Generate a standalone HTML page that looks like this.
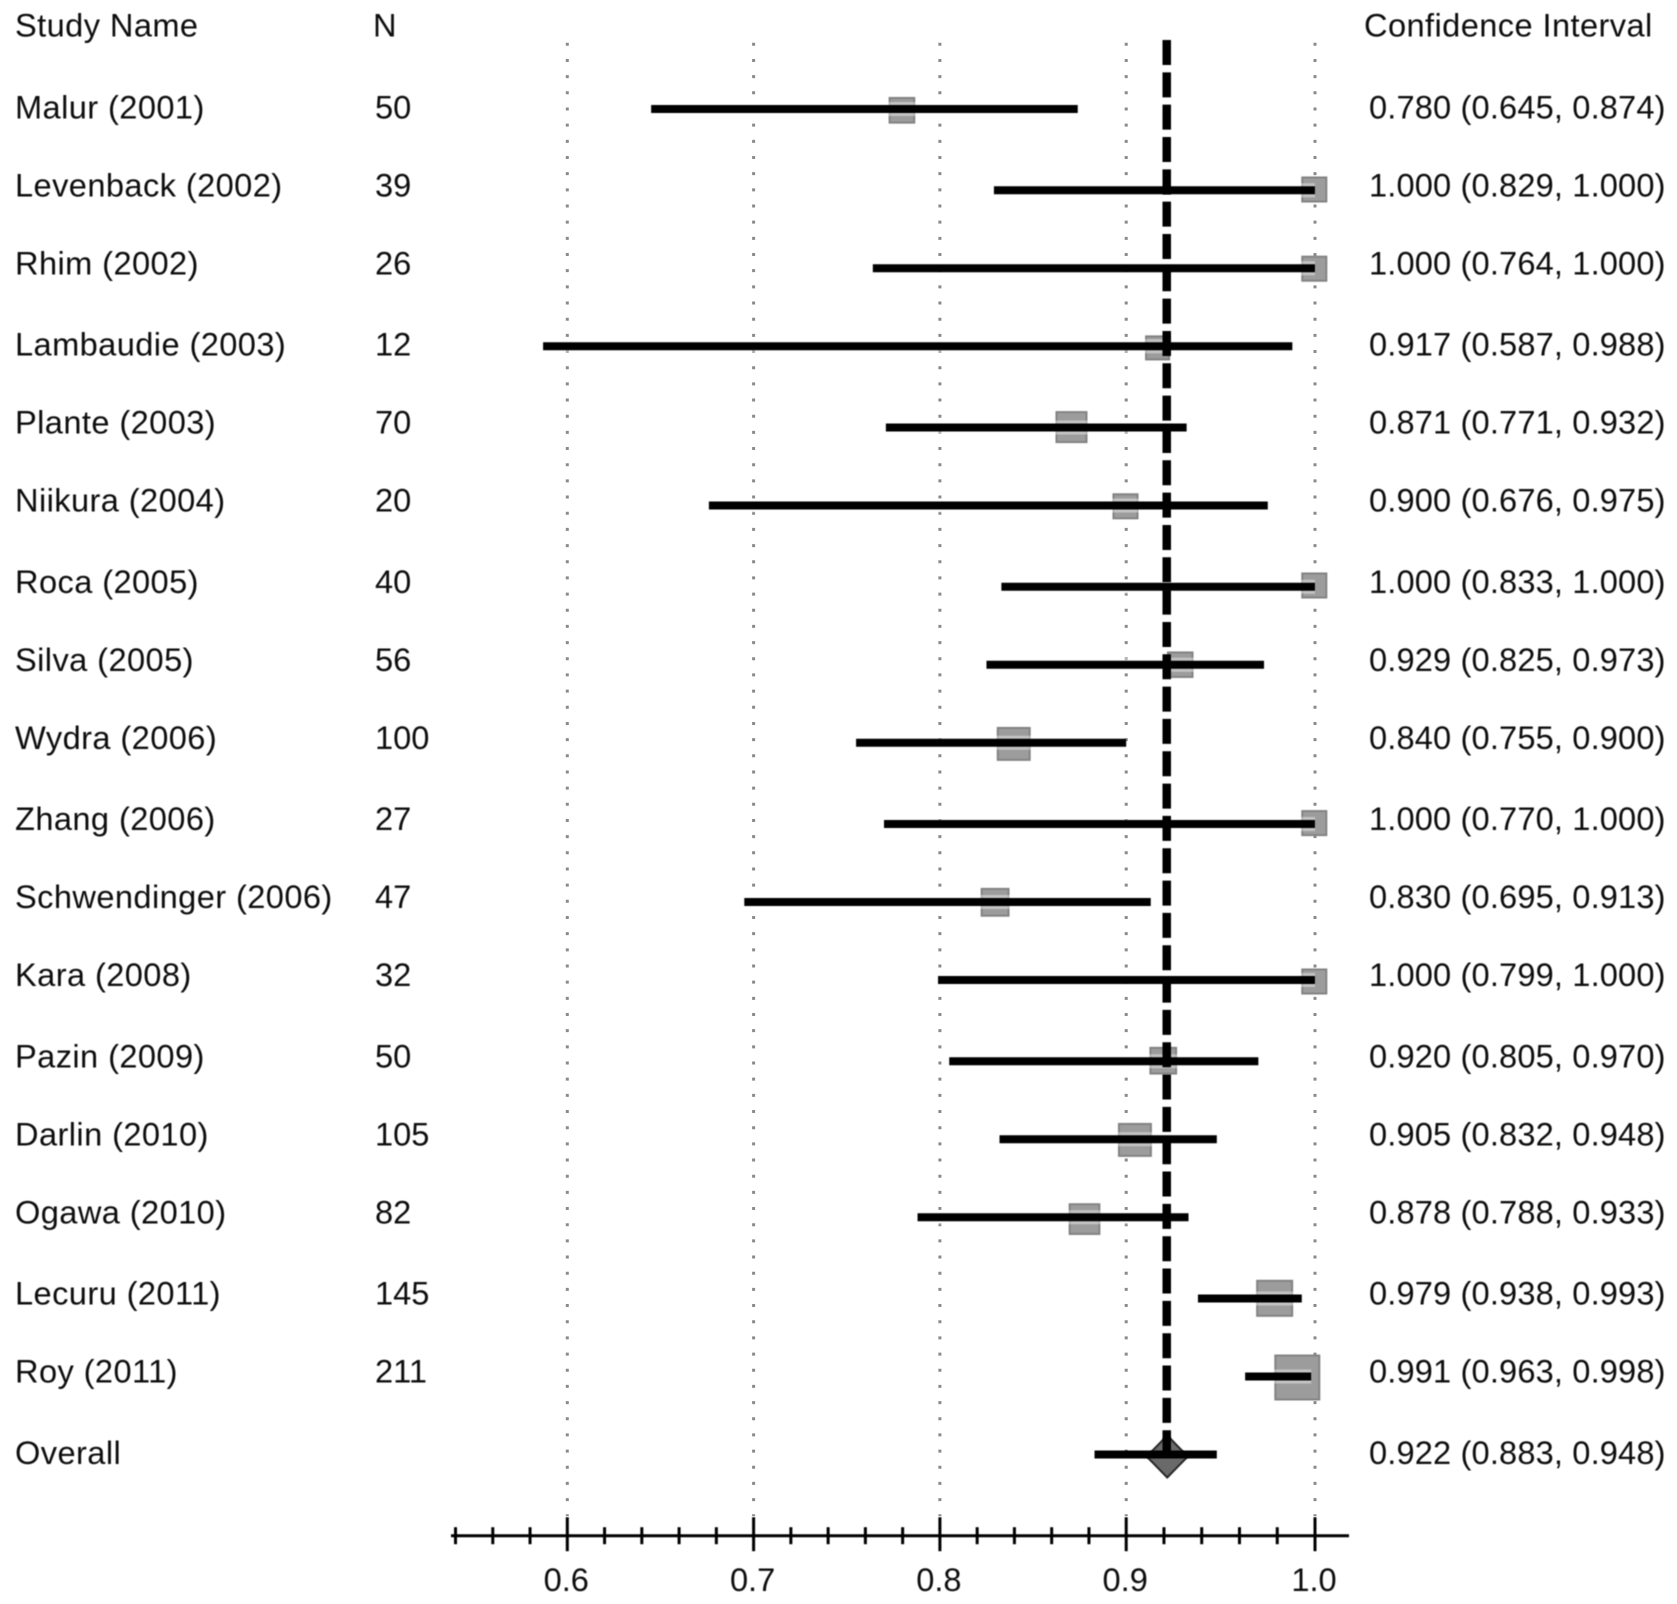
<!DOCTYPE html>
<html lang="en">
<head>
<meta charset="utf-8">
<title>Forest plot of sensitivity by study</title>
<style>
  html, body { margin: 0; padding: 0; background: #fff; }
  svg { display: block; }
  text { font-family: "Liberation Sans", Arial, sans-serif; font-size: 32.6px; fill: #0e0e0e; }
  .wide { letter-spacing: 0.42px; }
  .ci { letter-spacing: 0.16px; }
</style>
</head>
<body>
<svg id="chart" xmlns="http://www.w3.org/2000/svg" width="1677" height="1604" viewBox="0 0 1677 1604">
  <defs>
    <filter id="soft" filterUnits="userSpaceOnUse" x="0" y="0" width="1677" height="1604"><feGaussianBlur stdDeviation="0.45"/></filter>
  </defs>
  <rect width="1677" height="1604" fill="#fff"/>
  <g id="grid"></g>
  <g id="markers" filter="url(#soft)"></g>
  <g id="halos" filter="url(#soft)"></g>
  <g id="refline" filter="url(#soft)"></g>
  <g id="lines" filter="url(#soft)"></g>
  <g id="axis" filter="url(#soft)"></g>
  <g id="labels" filter="url(#soft)">
    <text class="wide" x="15" y="36.5">Study Name</text>
    <text x="373" y="36.5">N</text>
    <text class="wide" x="1364" y="36.5">Confidence Interval</text>
  </g>
</svg>
<script>
const studies = ["Malur (2001)", "Levenback (2002)", "Rhim (2002)", "Lambaudie (2003)", "Plante (2003)", "Niikura (2004)", "Roca (2005)", "Silva (2005)", "Wydra (2006)", "Zhang (2006)", "Schwendinger (2006)", "Kara (2008)", "Pazin (2009)", "Darlin (2010)", "Ogawa (2010)", "Lecuru (2011)", "Roy (2011)"];
const sampleSizes = [50, 39, 26, 12, 70, 20, 40, 56, 100, 27, 47, 32, 50, 105, 82, 145, 211];
const estimates = [0.780, 1.000, 1.000, 0.917, 0.871, 0.900, 1.000, 0.929, 0.840, 1.000, 0.830, 1.000, 0.920, 0.905, 0.878, 0.979, 0.991];
const lowers = [0.645, 0.829, 0.764, 0.587, 0.771, 0.676, 0.833, 0.825, 0.755, 0.770, 0.695, 0.799, 0.805, 0.832, 0.788, 0.938, 0.963];
const uppers = [0.874, 1.000, 1.000, 0.988, 0.932, 0.975, 1.000, 0.973, 0.900, 1.000, 0.913, 1.000, 0.970, 0.948, 0.933, 0.993, 0.998];
const weights = [11.1, 10.6, 10.6, 9.8, 16, 10.6, 10.6, 11, 18, 10.6, 13, 10.6, 12, 18, 15.7, 21.4, 33];
const overallLabel = ["Overall"];
const overallValues = [0.922, 0.883, 0.948];
const majorTicks = [0.6, 0.7, 0.8, 0.9, 1.0];
const minorTicks = [0.54, 0.56, 0.58, 0.62, 0.64, 0.66, 0.68, 0.72, 0.74, 0.76, 0.78, 0.82, 0.84, 0.86, 0.88, 0.92, 0.94, 0.96, 0.98];
const tickLabels = ["0.6", "0.7", "0.8", "0.9", "1.0"];

const NS = "http://www.w3.org/2000/svg";
function make(parent, tag, attrs) {
  const el = document.createElementNS(NS, tag);
  for (const k in attrs) el.setAttribute(k, attrs[k]);
  parent.appendChild(el);
  return el;
}
// Axis functions
function x(v) {
  return v <= 0.9 ? 567.3 + (v - 0.6) * 1863 : 1126.2 + (v - 0.9) * 1888;
}
// Rows snap to the source image's coarse pixel grid (3.25 px per source pixel)
function rowY(i) { return 109 + 3.25 * Math.floor(24.35 * i + 0.9); }
function markerY(i) { return 110.3 + 79.2 * i; }
function rowBaseline(i) { return 118.3 + 3.25 * Math.floor(24.35 * i + 0.06); }
function ci(e, l, u) { return e.toFixed(3) + " (" + l.toFixed(3) + ", " + u.toFixed(3) + ")"; }

const grid = document.getElementById("grid");
const markers = document.getElementById("markers");
const halos = document.getElementById("halos");
const refline = document.getElementById("refline");
const lines = document.getElementById("lines");
const axis = document.getElementById("axis");
const labels = document.getElementById("labels");

majorTicks.forEach(function (t) {
  const g = make(grid, "line", { x1: x(t), x2: x(t), y1: 42.8, y2: 1516, stroke: "#8a8a8a", "stroke-width": 3, "stroke-dasharray": "3 13.17" });
  
  
});

studies.forEach(function (name, i) {
  const y = rowY(i);
  const side = 8 * Math.sqrt(weights[i]) - 2;
  const m = make(markers, "rect", { x: x(estimates[i]) - side / 2 - 0.7, y: markerY(i) - side / 2, width: side, height: side, fill: "#9c9c9c", stroke: "#828282", "stroke-width": 2 });
  
  

  const h = make(halos, "line", { x1: x(lowers[i]), x2: x(uppers[i]), y1: y, y2: y, stroke: "rgba(255,255,255,0.4)", "stroke-width": 14 });
  
  

  const l = make(lines, "line", { x1: x(lowers[i]), x2: x(uppers[i]), y1: y, y2: y, stroke: "#000", "stroke-width": 8, "stroke-linecap": "butt" });
  
  

  const base = rowBaseline(i);
  const t1 = make(labels, "text", { x: 15, y: base, class: "wide" });
  t1.textContent = name;
  
  

  const t2 = make(labels, "text", { x: 375, y: base });
  t2.textContent = sampleSizes[i];
  
  

  const t3 = make(labels, "text", { x: 1369, y: base, class: "ci" });
  t3.textContent = ci(estimates[i], lowers[i], uppers[i]);
  
  
});

// Overall row
const overallRow = studies.length;
const oy = rowY(overallRow);
const ox = x(overallValues[0]);
const diamond = make(markers, "polygon", { points: [ox - 0.5, oy - 19, ox + 20, oy + 2, ox - 0.5, oy + 23, ox - 21, oy + 2].join(" "), fill: "#6a6a6a", stroke: "#222", "stroke-width": 2 });



const ref = make(refline, "line", { x1: ox - 1, x2: ox - 1, y1: 40, y2: oy + 4, stroke: "#000", "stroke-width": 8.5, "stroke-dasharray": "25 7.33" });



const ol = make(lines, "line", { x1: x(overallValues[1]), x2: x(overallValues[2]), y1: oy, y2: oy, stroke: "#000", "stroke-width": 8 });



const ot1 = make(labels, "text", { x: 15, y: rowBaseline(overallRow), class: "wide" });
ot1.textContent = overallLabel[0];



const ot2 = make(labels, "text", { x: 1369, y: rowBaseline(overallRow), class: "ci" });
ot2.textContent = ci(overallValues[0], overallValues[1], overallValues[2]);



// Axis
const axisY = 1535.7;
const domain = make(axis, "line", { x1: 451, x2: 1349, y1: axisY, y2: axisY, stroke: "#000", "stroke-width": 3 });



minorTicks.forEach(function (t) {
  const m = make(axis, "line", { x1: x(t), x2: x(t), y1: axisY - 8.5, y2: axisY + 8.5, stroke: "#000", "stroke-width": 3 });
  
  
});
majorTicks.forEach(function (t, i) {
  const m = make(axis, "line", { x1: x(t), x2: x(t), y1: axisY - 18.5, y2: axisY + 15.5, stroke: "#000", "stroke-width": 3 });
  
  

  const lab = make(labels, "text", { x: x(t) - 1, y: 1591, "text-anchor": "middle" });
  lab.textContent = tickLabels[i];
  
  
});
</script>
</body>
</html>
